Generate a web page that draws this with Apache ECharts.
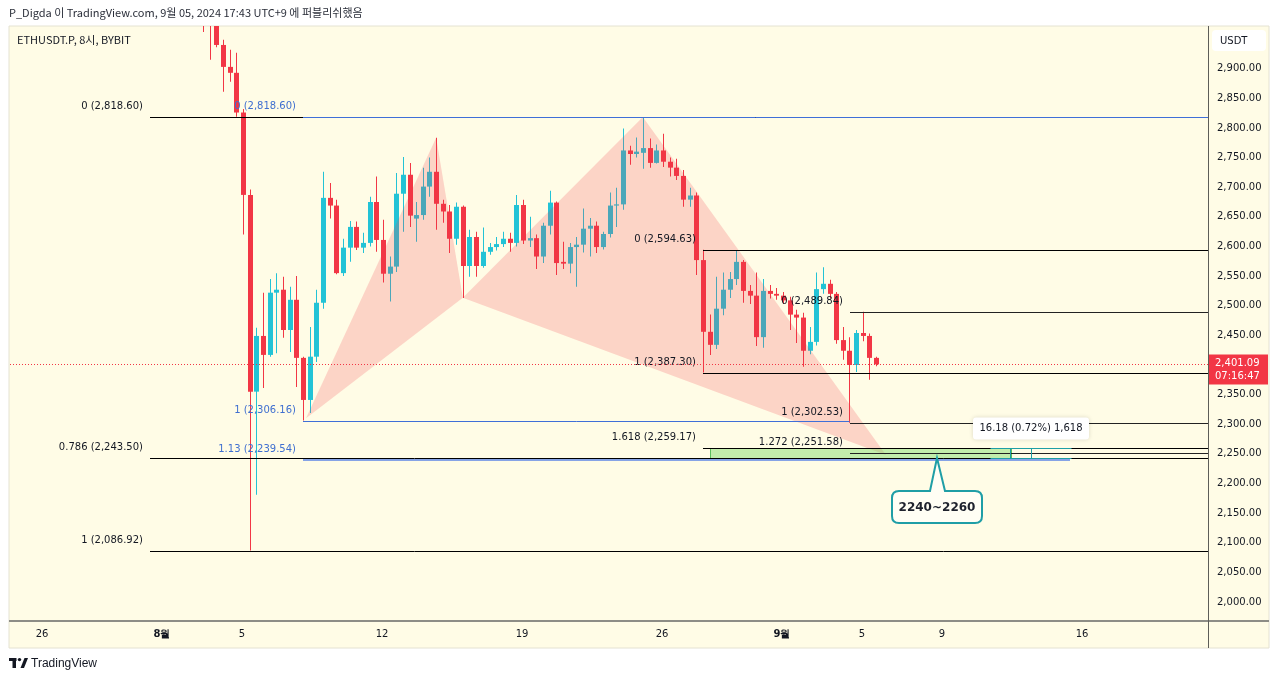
<!DOCTYPE html>
<html><head><meta charset="utf-8">
<script src="https://cdn.jsdelivr.net/npm/echarts/dist/echarts.min.js"></script>
<style>html,body{margin:0;padding:0;background:#fff}#c{width:1280px;height:681px}</style>
</head><body><div id="c"></div><script>
// ---- data (8h candles, KST; x measured in days from 2024-08-01 00:00 KST) ----
const candleStartDay = 2 + 1/24;   // 2024-08-03 01:00 KST
const candleStepDay = 1/3;         // 8 hours
const opens = [3010,2985,2976,2940,2903,2893,2826,2687,2355,2449,2417,2522,2527,2459,2510,2412,2341,2414,2505,2682,2669,2555,2598,2633,2598,2606,2675,2611,2554,2566,2689,2721,2647,2653,2701,2726,2672,2659,2613,2667,2567,2616,2567,2591,2599,2604,2613,2606,2670,2610,2614,2583,2635,2674,2574,2571,2599,2603,2630,2635,2599,2621,2669,2671,2762,2756,2758,2766,2741,2762,2743,2733,2719,2679,2686,2577,2456,2434,2495,2527,2545,2574,2525,2517,2447,2525,2520,2517,2509,2485,2480,2424,2439,2528,2537,2520,2442,2424,2400,2454,2449,2412];
const closes = [2985,2976,2940,2903,2893,2826,2687,2355,2449,2417,2522,2527,2459,2510,2412,2341,2414,2505,2682,2669,2555,2598,2633,2598,2606,2675,2611,2554,2566,2689,2721,2652,2653,2701,2726,2672,2659,2613,2667,2567,2616,2567,2591,2599,2604,2613,2606,2670,2610,2614,2583,2635,2674,2572,2571,2599,2603,2630,2635,2599,2621,2669,2671,2762,2756,2760,2766,2741,2762,2743,2733,2719,2679,2686,2577,2456,2434,2495,2527,2545,2574,2525,2517,2447,2525,2520,2517,2509,2485,2480,2424,2439,2528,2537,2520,2442,2424,2400,2454,2449,2412,2401.09];
const lows = [2962,2915,2936,2861,2878,2819,2620,2086.92,2181,2361,2414,2420,2446,2422,2363,2306.16,2319,2405,2495,2647,2553,2550,2574,2594,2589,2600,2591,2539,2507,2557,2625,2633,2608,2645,2684,2628,2640,2589,2603,2513,2549,2549,2564,2586,2593,2599,2591,2600,2604,2599,2562,2572,2620,2552,2562,2555,2532,2590,2583,2589,2595,2615,2633,2662,2738,2750,2731,2733,2740,2734,2718,2712,2667,2667,2552,2387.30,2417,2427,2484,2513,2535,2505,2503,2432,2429,2512,2510,2503,2459,2437,2397,2418,2433,2520,2512,2436,2409,2302.53,2388,2440,2375,2398];
const highs = [3030,2995,2984,2949,2932,2927,2832,2696,2463,2522,2545,2555,2549,2532,2550,2414,2464,2527,2726,2707,2679,2613,2643,2642,2623,2684,2718,2645,2583,2724,2751,2741,2675,2733,2750,2783.5,2679,2670,2674,2669,2628,2625,2632,2606,2616,2625,2623,2687,2679,2650,2620,2640,2694,2676,2608,2606,2616,2664,2648,2642,2625,2691,2699,2799,2770,2784,2818.6,2782,2772,2790,2750,2748,2729,2699,2691,2594.63,2485,2549,2556,2557,2594,2577,2535,2556,2545,2535,2530,2523,2515,2493,2488,2464,2556,2565,2544,2523,2464,2447,2459,2489.84,2453,2414];
const lastPrice = 2401.09;
const countdown = '07:16:47';

// axis ticks
const xTickDays   = [-6, 0, 4, 11, 18, 25, 31, 35, 39, 46];
const xTickLabels = ['26','8월','5','12','19','26','9월','5','9','16'];
const yTickMin = 2000, yTickMax = 2900, yTickStep = 50;

// drawings (prices)
const fibLeftRatios  = ['0','0.786','1'];
const fibLeftLevels  = [2818.60, 2243.50, 2086.92];
const fibBlueRatios  = ['0','1','1.13'];
const fibBlueLevels  = [2818.60, 2306.16, 2239.54];
const fibAug28Ratios = ['0','1','1.618'];
const fibAug28Levels = [2594.63, 2387.30, 2259.17];
const fibSep4Ratios  = ['0','1','1.272'];
const fibSep4Levels  = [2489.84, 2302.53, 2251.58];
// XABCD pattern points
const patternDays   = [7.2, 13.7083, 15.0417, 24.0417, 36.2];
const patternPrices = [2310, 2783.5, 2513.3, 2818.6, 2248];
// target zone and price range
const zoneDays = [27.375, 42.4];
const zonePrices = [2242.99, 2259.17];
const rangeText = '16.18 (0.72%) 1,618';
const calloutText = '2240~2260';
const calloutPoint = [38.75, 2243.5];

// ---- chart ----
const UP = '#22c3d6', DOWN = '#f23645', BG = '#fffce6', TXT = '#131722';
const FONT = '"DejaVu Sans", sans-serif';
const fmt = v => v.toLocaleString('en-US', {minimumFractionDigits: 2, maximumFractionDigits: 2});
const candleData = opens.map((o, i) => [candleStartDay + i * candleStepDay, o, closes[i], lows[i], highs[i]]);
const lastDay = candleData[candleData.length - 1][0];

function fibSeries(name, startDay, ratios, levels, lineColor, textColor, widths, endDay, z) {
  return {
    type: 'custom', name, z: z || 5, clip: true, silent: true,
    data: levels.map((p, i) => [startDay, p, i]),
    encode: {x: 0, y: 1},
    renderItem(params, api) {
      const i = api.value(2);
      const p0 = api.coord([startDay, levels[i]]);
      const cs = params.coordSys;
      const xEnd = endDay && endDay[i] != null ? api.coord([endDay[i], levels[i]])[0] : cs.x + cs.width;
      const w = widths ? widths[i] : 1;
      const y = w % 2 ? Math.round(p0[1]) + 0.5 : Math.round(p0[1]);
      const stroke = Array.isArray(lineColor) ? lineColor[i] : lineColor;
      return {type: 'group', children: [
        {type: 'line', shape: {x1: Math.round(p0[0]), y1: y, x2: xEnd, y2: y}, style: {stroke, lineWidth: w}},
        {type: 'text', x: Math.round(p0[0]) - 7, y: y - 11, style: {text: ratios[i] + ' (' + fmt(levels[i]) + ')', align: 'right', verticalAlign: 'middle', fill: textColor, font: '10px ' + FONT}}
      ]};
    }
  };
}

const option = {
  backgroundColor: '#ffffff',
  animation: false,
  grid: {left: 10, right: 72, top: 26, bottom: 60, containLabel: false},
  xAxis: {
    type: 'value', min: -7.6, max: 52.3, interval: 0.2,
    axisLine: {show: false}, axisTick: {show: false}, splitLine: {show: false},
    axisLabel: {
      margin: 8, color: TXT, fontSize: 10, fontFamily: FONT,
      formatter: v => {
        const r = Math.round(v);
        if (Math.abs(v - r) > 1e-6) return '';
        const k = xTickDays.indexOf(r);
        if (k < 0) return '';
        const s = xTickLabels[k];
        return s.indexOf('월') >= 0 ? '{b|' + s + '}' : s;
      },
      rich: {b: {fontWeight: 'bold', fontSize: 10, fontFamily: FONT, color: TXT}}
    }
  },
  yAxis: {
    type: 'value', position: 'right', min: 1968, max: 2972, interval: 2,
    axisLine: {show: false}, axisTick: {show: false}, splitLine: {show: false},
    axisLabel: {
      margin: 9, color: TXT, fontSize: 10, fontFamily: FONT,
      formatter: v => (v % yTickStep === 0 && v >= yTickMin && v <= yTickMax) ? fmt(v) : ''
    }
  },
  graphic: [
    {type: 'rect', z: -10, shape: {x: 9, y: 26, width: 1260, height: 622}, style: {fill: BG, stroke: '#e4e2d2', lineWidth: 1}},
    {type: 'line', z: 10, shape: {x1: 9, y1: 621, x2: 1269, y2: 621}, style: {stroke: '#8d8d86', lineWidth: 2}},
    {type: 'line', z: 10, shape: {x1: 1208.5, y1: 26, x2: 1208.5, y2: 648}, style: {stroke: '#5d5d58', lineWidth: 1}},
    {type: 'text', z: 10, x: 9, y: 13, style: {text: 'P_Digda 이 TradingView.com, 9월 05, 2024 17:43 UTC+9 에 퍼블리쉬했음', font: '11px "Noto Sans CJK KR", sans-serif', fill: '#2a2e39', verticalAlign: 'middle'}},
    {type: 'text', z: 10, x: 17, y: 40, style: {text: 'ETHUSDT.P, 8시, BYBIT', font: '11px "Noto Sans CJK KR", sans-serif', fill: TXT, verticalAlign: 'middle'}},
    {type: 'rect', z: 10, shape: {x: 1212, y: 30, width: 54, height: 21, r: 4}, style: {fill: '#ffffff'}},
    {type: 'text', z: 11, x: 1220, y: 41, style: {text: 'USDT', font: '10px ' + FONT, fill: TXT, verticalAlign: 'middle'}},
    {type: 'rect', z: 10, shape: {x: 9, y: 658, width: 7.5, height: 3}, style: {fill: '#131722'}},
    {type: 'rect', z: 10, shape: {x: 12.5, y: 658, width: 3.5, height: 10}, style: {fill: '#131722'}},
    {type: 'circle', z: 10, shape: {cx: 19.5, cy: 659.6, r: 1.7}, style: {fill: '#131722'}},
    {type: 'polygon', z: 10, shape: {points: [[20.5, 668], [24.5, 658], [28, 658], [24, 668]]}, style: {fill: '#131722'}},
    {type: 'text', z: 10, x: 31, y: 663.5, style: {text: 'TradingView', font: '12px "Liberation Sans", sans-serif', fill: '#131722', verticalAlign: 'middle'}}
  ],
  series: [
    {
      type: 'custom', name: 'ETHUSDT.P', z: 2, clip: true, silent: true,
      data: candleData, encode: {x: 0, y: [1, 2, 3, 4]},
      renderItem(params, api) {
        const x = api.value(0), o = api.value(1), c = api.value(2), l = api.value(3), h = api.value(4);
        const po = api.coord([x, o]), pc = api.coord([x, c]), pl = api.coord([x, l]), ph = api.coord([x, h]);
        const cx = Math.round(po[0]);
        const color = c >= o ? UP : DOWN;
        const top = Math.min(po[1], pc[1]);
        const bh = Math.max(1, Math.abs(po[1] - pc[1]));
        return {type: 'group', children: [
          {type: 'rect', shape: {x: cx, y: ph[1], width: 1, height: pl[1] - ph[1]}, style: {fill: color}},
          {type: 'rect', shape: {x: cx - 2, y: top, width: 5, height: bh}, style: {fill: color}}
        ]};
      }
    },
    {
      type: 'custom', name: 'XABCD', z: 3, clip: true, silent: true,
      data: [[0], [1]],
      renderItem(params, api) {
        const k = api.value(0) * 2;
        const pts = [k, k + 1, k + 2].map(j => api.coord([patternDays[j], patternPrices[j]]));
        return {type: 'polygon', shape: {points: pts}, style: {fill: 'rgba(242,54,69,0.2)'}};
      }
    },
    fibSeries('fibLeft', -0.6, fibLeftRatios, fibLeftLevels, '#000000', TXT, [1, 1, 1]),
    fibSeries('fibAug28', 27.0417, fibAug28Ratios, fibAug28Levels, '#000000', TXT, [1, 1, 1]),
    fibSeries('fibSep4', 34.375, fibSep4Ratios, fibSep4Levels, '#222222', TXT, [1, 1, 1]),
    fibSeries('fibBlue', 7.0417, fibBlueRatios, fibBlueLevels, ['#3f6fd8', '#3f6fd8', '#86a3e6'], '#3f6fd0', [1, 1, 2], [null, 34.375, 45.4], 6),
    {
      type: 'custom', name: 'zone', z: 4, clip: true, silent: true,
      data: [[zoneDays[0], zonePrices[0], zoneDays[1], zonePrices[1]]],
      renderItem(params, api) {
        const a = api.coord([api.value(0), api.value(3)]);
        const b = api.coord([api.value(2), api.value(1)]);
        return {type: 'rect', shape: {x: Math.round(a[0]) + 0.5, y: Math.round(a[1]) + 0.5, width: Math.round(b[0] - a[0]), height: Math.round(b[1] - a[1])},
          style: {fill: 'rgba(120,220,100,0.45)', stroke: '#5cbf5c', lineWidth: 1}};
      }
    },
    {
      type: 'custom', name: 'priceRange', z: 6, clip: false, silent: true,
      data: [[42.4, zonePrices[0], 43.45, zonePrices[1]]],
      renderItem(params, api) {
        const a = api.coord([api.value(0), api.value(3)]);
        const b = api.coord([api.value(2), api.value(1)]);
        const t = '#1f9ea6';
        const x0 = Math.round(a[0]) + 0.5, x1 = Math.round(b[0]) + 0.5, y0 = Math.round(a[1]) + 0.5, y1 = Math.round(b[1]) + 0.5;
        const cxm = (x0 + x1) / 2 + 10;
        return {type: 'group', children: [
          {type: 'line', shape: {x1: x0 - 20, y1: y0, x2: x1 + 40, y2: y0}, style: {stroke: t, lineWidth: 1}},
          {type: 'line', shape: {x1: x0 - 20, y1: y1, x2: x1 + 40, y2: y1}, style: {stroke: t, lineWidth: 1}},
          {type: 'line', shape: {x1: x0, y1: y0, x2: x0, y2: y1}, style: {stroke: t, lineWidth: 1}},
          {type: 'line', shape: {x1: x1, y1: y0, x2: x1, y2: y1}, style: {stroke: t, lineWidth: 1}},
          {type: 'rect', shape: {x: cxm - 58, y: y0 - 31, width: 116, height: 22, r: 3}, style: {fill: '#ffffff', shadowBlur: 4, shadowColor: 'rgba(0,0,0,0.15)'}},
          {type: 'text', x: cxm, y: y0 - 20, style: {text: rangeText, align: 'center', verticalAlign: 'middle', fill: TXT, font: '10px ' + FONT}}
        ]};
      }
    },
    {
      type: 'custom', name: 'callout', z: 7, clip: false, silent: true,
      data: [calloutPoint],
      renderItem(params, api) {
        const p = api.coord([api.value(0), api.value(1)]);
        const tx = Math.round(p[0]), ty = Math.round(p[1]);
        const bx0 = tx - 45, bx1 = tx + 45, by0 = ty + 33, by1 = ty + 65, r = 7, pl = tx - 7, pr = tx + 8;
        const d = `M${bx0 + r} ${by0} L${pl} ${by0} L${tx} ${ty} L${pr} ${by0} L${bx1 - r} ${by0} Q${bx1} ${by0} ${bx1} ${by0 + r} L${bx1} ${by1 - r} Q${bx1} ${by1} ${bx1 - r} ${by1} L${bx0 + r} ${by1} Q${bx0} ${by1} ${bx0} ${by1 - r} L${bx0} ${by0 + r} Q${bx0} ${by0} ${bx0 + r} ${by0} Z`;
        return {type: 'group', children: [
          {type: 'path', shape: {pathData: d}, style: {fill: '#fffef4', stroke: '#1f9ea6', lineWidth: 2}},
          {type: 'text', x: tx, y: (by0 + by1) / 2 + 1, style: {text: calloutText, align: 'center', verticalAlign: 'middle', fill: '#1e222d', font: 'bold 12px ' + FONT}}
        ]};
      }
    },
    {
      type: 'custom', name: 'lastPrice', z: 8, clip: false, silent: true,
      data: [[lastDay, lastPrice]],
      renderItem(params, api) {
        const p = api.coord([api.value(0), api.value(1)]);
        const cs = params.coordSys;
        const y = Math.round(p[1]) + 0.5;
        const xr = cs.x + cs.width;
        return {type: 'group', children: [
          {type: 'line', shape: {x1: cs.x, y1: y, x2: xr, y2: y}, style: {stroke: DOWN, lineWidth: 1, lineDash: [1, 2]}},
          {type: 'rect', shape: {x: xr, y: y - 10, width: 60, height: 30}, style: {fill: DOWN}},
          {type: 'text', x: xr + 7, y: y - 1, style: {text: fmt(lastPrice), verticalAlign: 'middle', fill: '#ffffff', font: '10px ' + FONT}},
          {type: 'text', x: xr + 7, y: y + 12, style: {text: countdown, verticalAlign: 'middle', fill: '#ffffff', font: '10px ' + FONT}}
        ]};
      }
    }
  ]
};
const chart = echarts.init(document.getElementById('c'));
chart.setOption(option);
</script></body></html>
